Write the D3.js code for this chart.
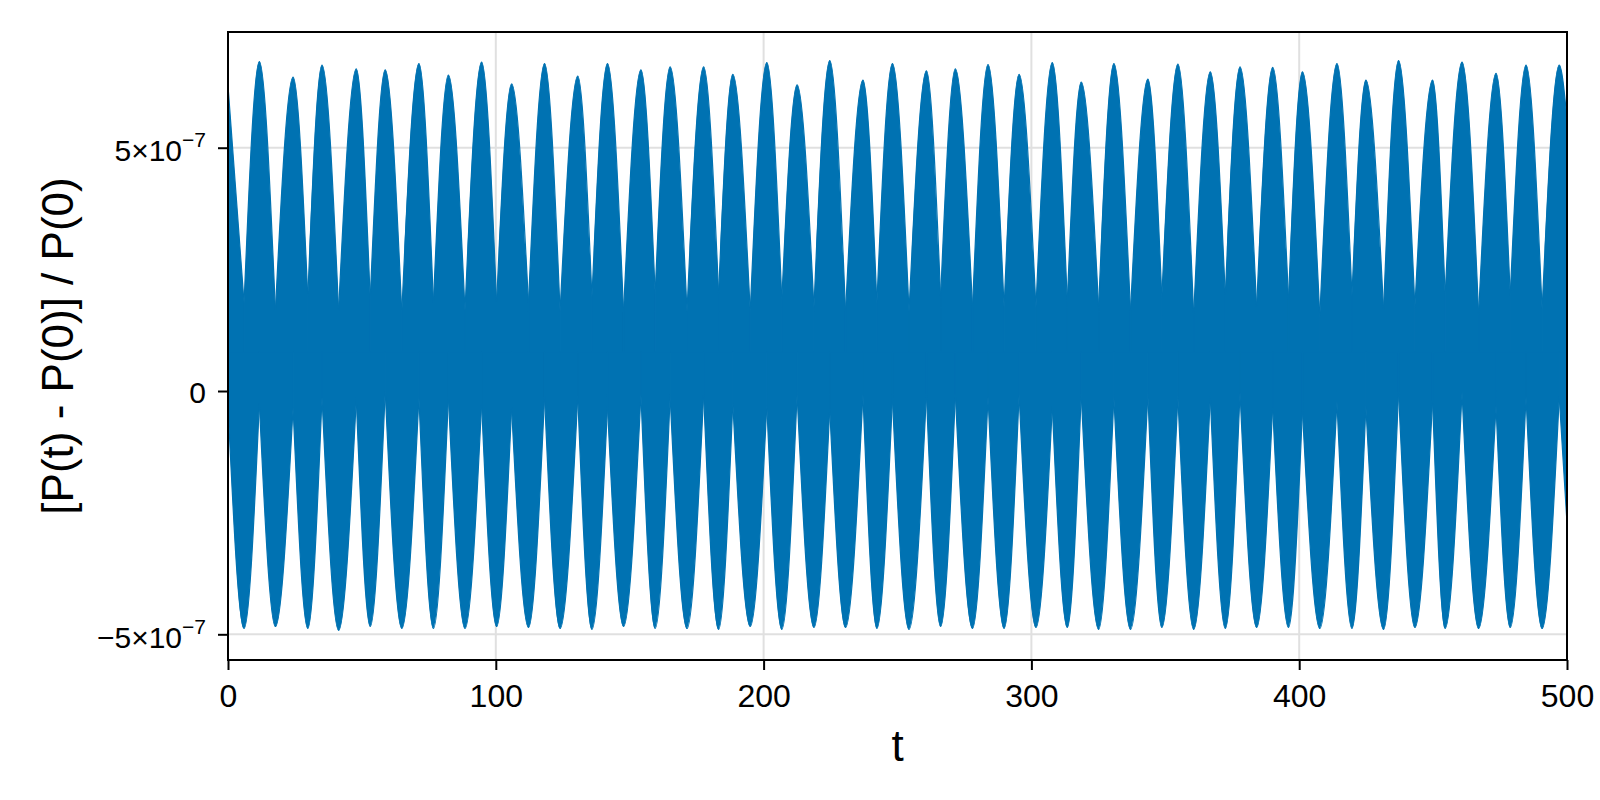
<!DOCTYPE html>
<html>
<head>
<meta charset="utf-8">
<script src="https://cdn.jsdelivr.net/npm/d3@7"></script>
<style>
  body { margin: 0; background: #fff; }
  svg { display: block; font-family: "Liberation Sans", Arial, Helvetica, sans-serif; }
</style>
</head>
<body>
<div id="chart"></div>
<script>
// envelope of the signal, values in units of 1e-7
const peakT = [11.7, 24.3, 35.1, 47.9, 58.7, 71.3, 82.3, 94.7, 105.9,
  118.2, 130.6, 141.7, 154.2, 165.1, 177.6, 188.5, 201.2,
  212.5, 224.7, 237.1, 248.1, 260.8, 271.6, 283.8, 295.4,
  307.8, 318.6, 330.8, 343.5, 354.7, 366.8, 377.9, 390.1, 401.2,
  414.1, 424.9, 437.1, 449.8, 460.8, 473.5, 484.7, 497.1];
const peakV = [6.77, 6.45, 6.70, 6.62, 6.60, 6.73, 6.49, 6.76, 6.31,
  6.73, 6.47, 6.73, 6.60, 6.66, 6.66, 6.51, 6.75,
  6.29, 6.79, 6.39, 6.73, 6.58, 6.62, 6.71, 6.51,
  6.75, 6.35, 6.73, 6.41, 6.72, 6.56, 6.66, 6.65, 6.56,
  6.73, 6.39, 6.79, 6.39, 6.76, 6.53, 6.70, 6.70];
// lower edge at the peak times
const lowerNotchV = [-0.26, -0.34, -0.13, -0.17, 0.0, -0.13, -0.13, -0.26, -0.34,
  -0.12, -0.12, -0.32, -0.07, -0.12, -0.07, -0.24, -0.30,
  -0.07, -0.37, -0.07, -0.16, -0.07, -0.07, -0.12, -0.07,
  -0.32, -0.07, -0.12, -0.07, -0.12, -0.12, -0.03, -0.32, -0.40,
  -0.21, -0.31, -0.02, -0.20, -0.02, -0.30, -0.12, -0.12];

const troughT = [6.0, 17.7, 29.8, 41.3, 53.1, 64.9, 76.7, 88.5, 100.3,
  112.2, 124.0, 135.9, 147.7, 159.5, 171.4, 183.2, 195.0,
  206.8, 218.8, 230.6, 242.3, 254.3, 266.1, 278.0, 289.8,
  301.7, 313.4, 325.1, 337.0, 348.7, 360.6, 372.4, 384.1, 396.0,
  407.7, 419.7, 431.5, 443.2, 454.5, 467.0, 478.8, 490.7];
const troughV = [-4.88, -4.84, -4.88, -4.92, -4.84, -4.88, -4.88, -4.88, -4.84,
  -4.86, -4.88, -4.90, -4.84, -4.88, -4.88, -4.90, -4.84,
  -4.90, -4.86, -4.86, -4.88, -4.90, -4.84, -4.88, -4.88,
  -4.86, -4.86, -4.90, -4.90, -4.86, -4.90, -4.88, -4.86, -4.86,
  -4.88, -4.88, -4.90, -4.86, -4.88, -4.88, -4.86, -4.88];
// upper edge at the trough times
const upperNotchV = [1.81, 1.65, 1.93, 1.65, 1.89, 1.61, 1.81, 1.65, 1.81,
  1.80, 1.63, 1.92, 1.63, 2.00, 1.63, 2.00, 1.63,
  1.88, 1.71, 1.63, 1.80, 1.63, 1.92, 1.71, 1.71,
  1.71, 1.84, 1.71, 1.63, 1.92, 1.55, 1.96, 1.71, 1.88,
  1.53, 1.96, 1.67, 1.72, 1.96, 1.58, 1.96, 1.67];

const startPoint = {t: 0, hi: 6.27, lo: -0.3};
const endPoint = {t: 500, hi: 5.58, lo: -2.71};

const xTicks = [0, 100, 200, 300, 400, 500];
const yTicks = [-5, 0, 5];
const yDomain = [-5.528, 7.378];

const width = 1600;
const height = 800;
const margin = {top: 32, right: 33, bottom: 140, left: 228};
const plotW = width - margin.left - margin.right;
const plotH = height - margin.top - margin.bottom;
const blue = '#0072b2';
const coreMid = 0.8; // level inside the always-filled core of the band

// one upper lobe per peak: notch -> peak -> next notch
const upperLobes = [[{t: startPoint.t, v: startPoint.hi}, {t: troughT[0], v: upperNotchV[0]}]];
peakT.forEach((t, i) => {
  const next = i < troughT.length - 1
    ? {t: troughT[i + 1], v: upperNotchV[i + 1]}
    : {t: endPoint.t, v: endPoint.hi};
  upperLobes.push([{t: troughT[i], v: upperNotchV[i]}, {t: t, v: peakV[i]}, next]);
});

// one lower lobe per trough: notch -> trough -> next notch
const lowerLobes = [];
troughT.forEach((t, i) => {
  const prev = i === 0
    ? {t: startPoint.t, v: startPoint.lo}
    : {t: peakT[i - 1], v: lowerNotchV[i - 1]};
  lowerLobes.push([prev, {t: t, v: troughV[i]}, {t: peakT[i], v: lowerNotchV[i]}]);
});
lowerLobes.push([{t: peakT[peakT.length - 1], v: lowerNotchV[lowerNotchV.length - 1]}, {t: endPoint.t, v: endPoint.lo}]);

const x = d3.scaleLinear().domain([0, 500]).range([0, plotW]);
const y = d3.scaleLinear().domain(yDomain).range([plotH, 0]);

const svg = d3.select('#chart')
  .append('svg')
  .attr('width', width)
  .attr('height', height);

const g = svg.append('g')
  .attr('transform', `translate(${margin.left},${margin.top})`);

g.append('clipPath')
  .attr('id', 'plot-clip')
  .append('rect')
  .attr('width', plotW)
  .attr('height', plotH);

// grid
g.append('g')
  .selectAll('line')
  .data(xTicks)
  .enter()
  .append('line')
  .attr('x1', d => x(d))
  .attr('x2', d => x(d))
  .attr('y1', 0)
  .attr('y2', plotH)
  .attr('stroke', '#e0e0e0')
  .attr('stroke-width', 2);

g.append('g')
  .selectAll('line')
  .data(yTicks)
  .enter()
  .append('line')
  .attr('x1', 0)
  .attr('x2', plotW)
  .attr('y1', d => y(d))
  .attr('y2', d => y(d))
  .attr('stroke', '#e0e0e0')
  .attr('stroke-width', 2);

// signal band, drawn lobe by lobe
const area = d3.area()
  .x(d => x(d.t))
  .y0(y(coreMid))
  .y1(d => y(d.v))
  .curve(d3.curveMonotoneX);

const band = g.append('g').attr('clip-path', 'url(#plot-clip)');

band.selectAll('path')
  .data(upperLobes.concat(lowerLobes))
  .enter()
  .append('path')
  .attr('d', area)
  .attr('fill', blue)
  .attr('stroke', blue)
  .attr('stroke-width', 1.2)
  .attr('stroke-linejoin', 'round');

// frame
g.append('rect')
  .attr('width', plotW)
  .attr('height', plotH)
  .attr('fill', 'none')
  .attr('stroke', '#000')
  .attr('stroke-width', 2);

// x axis
const xAxis = g.append('g')
  .attr('transform', `translate(0,${plotH})`)
  .call(d3.axisBottom(x).tickValues(xTicks).tickSize(10).tickPadding(14).tickFormat(d3.format('d')));
xAxis.select('.domain').remove();
xAxis.selectAll('line').attr('stroke', '#000').attr('stroke-width', 2);
xAxis.selectAll('text')
  .attr('fill', '#000')
  .attr('font-size', 32)
  .attr('font-family', '"Liberation Sans", Arial, sans-serif');

// y axis
const yAxis = g.append('g')
  .call(d3.axisLeft(y).tickValues(yTicks).tickSize(10).tickFormat(''));
yAxis.select('.domain').remove();
yAxis.selectAll('line').attr('stroke', '#000').attr('stroke-width', 2);

yAxis.selectAll('.tick').each(function (d) {
  const t = d3.select(this).append('text')
    .attr('x', -22)
    .attr('text-anchor', 'end')
    .attr('fill', '#000')
    .attr('font-size', 30)
    .attr('font-family', '"Liberation Sans", Arial, sans-serif');
  if (d === 0) {
    t.attr('y', 11).text('0');
  } else {
    t.attr('y', 13);
    t.append('tspan').text(`${d < 0 ? '\u2212' : ''}${Math.abs(d)}\u00d710`);
    t.append('tspan').attr('dy', -14).attr('font-size', 21).text('\u22127');
  }
});

// axis labels
svg.append('text')
  .attr('x', margin.left + plotW / 2)
  .attr('y', 761)
  .attr('text-anchor', 'middle')
  .attr('font-size', 44)
  .attr('fill', '#000')
  .text('t');

svg.append('text')
  .attr('transform', `translate(73,${margin.top + plotH / 2}) rotate(-90)`)
  .attr('text-anchor', 'middle')
  .attr('font-size', 44)
  .attr('fill', '#000')
  .text('[P(t) - P(0)] / P(0)');
</script>
</body>
</html>
